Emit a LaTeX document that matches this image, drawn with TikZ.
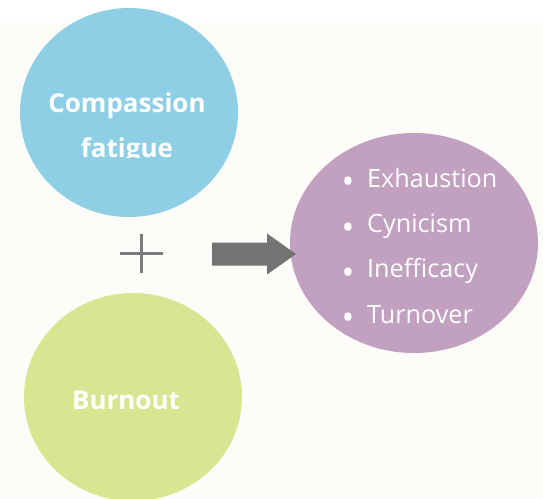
\documentclass[tikz,border=0pt]{standalone}
\usepackage{fontspec}
\setmainfont{Open Sans}
\usetikzlibrary{shapes.geometric}
\definecolor{crema}{RGB}{253,252,248}
\definecolor{azul}{RGB}{142,207,230}
\definecolor{verde}{RGB}{214,230,145}
\definecolor{lila}{RGB}{193,160,192}
\definecolor{gris}{RGB}{115,115,115}

\begin{document}
\begin{tikzpicture}[x=1pt,y=-1pt]
% estilos de relleno y texto
\tikzstyle{circulo}=[ellipse,inner sep=0pt,draw=none];
\tikzstyle{titulo}=[white,anchor=base,inner sep=0pt,font=\fontsize{26}{26}\selectfont\bfseries];
\tikzstyle{item}=[white,anchor=base west,inner sep=0pt,font=\fontsize{25.2}{25}\selectfont];
\tikzstyle{punto}=[white,anchor=base,inner sep=0pt,font=\fontsize{34}{34}\selectfont];
\tikzstyle{flecha}=[fill=gris];
\tikzstyle{signo}=[draw=gris!95!white,line width=3.5pt];
% fondo
\useasboundingbox (0,0) rectangle (543,498);
\fill[white] (0,0) rectangle (543,23);
\fill[crema] (0,23) rectangle (543,498);
% dibujar circulos
\node[circulo,fill=azul,minimum width=218pt,minimum height=209pt] (compasion) at (129,112.5) {};
\node[circulo,fill=verde,minimum width=218pt,minimum height=208pt] (burnout) at (133,397) {};
\node[circulo,fill=lila,minimum width=248pt,minimum height=220pt] (efectos) at (414,243) {};
% rotulos
\node[titulo] (compasiont) at (127,112) {Compassion};
\begin{scope}
\clip (0,0) rectangle (543,157);
\node[titulo] (fatiga) at (127,157) {fatigue};
\end{scope}
\node[titulo] (burnoutt) at (126,409) {Burnout};
% lista de efectos
\foreach \t [count=\i] in {Exhaustion,Cynicism,Inefficacy,Turnover}{
\node[punto] (p\i) at (348,148.5+45.3*\i) {•};
\node[item] (e\i) at (367,142+45.3*\i) {\t};
}
% signo mas y flecha
\coordinate (mas) at (141.5,253.5);
\draw[signo] (mas) ++(-21.5,0) -- ++(43,0);
\draw[signo] (mas) ++(0,-19.5) -- ++(0,39);
\coordinate (cola) at (212,254);
\fill[flecha] (cola) ++(0,-11.5) -- ++(55,0) -- ++(0,-9) -- ++(29,20.5) -- ++(-29,20.5) -- ++(0,-9) -- ++(-55,0) -- cycle;
\end{tikzpicture}
\end{document}
